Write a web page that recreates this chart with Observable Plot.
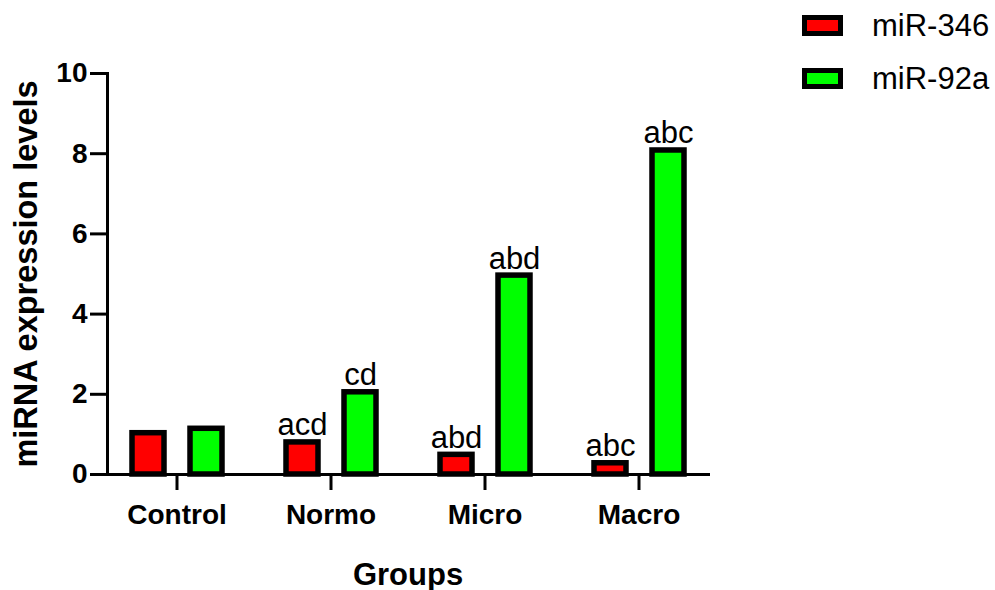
<!DOCTYPE html>
<html>
<head>
<meta charset="utf-8">
<script src="https://cdn.jsdelivr.net/npm/d3@7"></script>
<script src="https://cdn.jsdelivr.net/npm/@observablehq/plot@0.6"></script>
<style>
  html, body { margin: 0; padding: 0; background: white; }
  #wrap { position: relative; width: 995px; height: 590px; font-family: "Liberation Sans", Arial, sans-serif; }
  #legend { position: absolute; left: 802px; top: -1px; }
  .item { display: flex; align-items: center; height: 53px; }
  .sw { width: 31px; height: 11px; border: 5.5px solid black; box-sizing: content-box; }
  .lab { margin-left: 29px; font-size: 31px; color: black; line-height: 1; }
  [aria-label="y-axis label"] text { font-size: 32.5px; font-weight: bold; }
  [aria-label="fx-axis label"] text { font-size: 31px; font-weight: bold; }
  [aria-label="y-axis tick label"] text, [aria-label="fx-axis tick label"] text { font-weight: bold; }
</style>
</head>
<body>
<div id="wrap"><div id="chart"></div><div id="legend"></div></div>
<script>
const groups = ["Control", "Normo", "Micro", "Macro"];
const series = ["miR-346", "miR-92a"];
const mir346 = [1.03, 0.80, 0.49, 0.28];
const mir92a = [1.14, 2.05, 4.96, 8.08];
const labels346 = ["", "acd", "abd", "abc"];
const labels92a = ["", "cd", "abd", "abc"];
const colors = ["#ff0000", "#00ff00"];
const yTicks = [0, 2, 4, 6, 8, 10];

const data = groups.flatMap((g, i) => [
  {group: g, series: series[0], value: mir346[i], label: labels346[i]},
  {group: g, series: series[1], value: mir92a[i], label: labels92a[i]}
]);

const chart = Plot.plot({
  width: 995,
  height: 590,
  marginLeft: 106,
  marginRight: 286,
  marginTop: 73,
  marginBottom: 116,
  style: {fontFamily: "'Liberation Sans', Arial, sans-serif", color: "black", background: "white"},
  fx: {domain: groups, paddingInner: 0.1, paddingOuter: 0, label: "Groups"},
  x: {domain: series, paddingInner: 0.45, paddingOuter: 0.415, axis: null},
  y: {domain: [0, 10], label: "miRNA expression levels"},
  color: {domain: series, range: colors},
  marks: [
    Plot.barY(data, {fx: "group", x: "series", y: "value", fill: "series", stroke: "black", strokeWidth: 5.5}),
    Plot.text(data, {fx: "group", x: "series", y: "value", text: "label", dy: -7, lineAnchor: "bottom", fontSize: 31, fill: "black"}),
    Plot.axisY({ticks: yTicks, tickSize: 17, tickPadding: 3, strokeWidth: 3, fontSize: 28, fontWeight: "bold",
      label: "miRNA expression levels", labelArrow: "none", labelAnchor: "center", labelOffset: 94}),
    Plot.axisFx({anchor: "bottom", tickSize: 16, tickPadding: 14, strokeWidth: 3, fontSize: 28, fontWeight: "bold",
      label: "Groups", labelArrow: "none", labelAnchor: "center", labelOffset: 110}),
    Plot.frame({anchor: "bottom", facet: "super", stroke: "black", strokeWidth: 3}),
    Plot.frame({anchor: "left", facet: "super", stroke: "black", strokeWidth: 3})
  ]
});
document.getElementById("chart").appendChild(chart);

const legend = document.getElementById("legend");
series.forEach((s, i) => {
  const item = document.createElement("div");
  item.className = "item";
  const sw = document.createElement("div");
  sw.className = "sw";
  sw.style.background = colors[i];
  const lab = document.createElement("div");
  lab.className = "lab";
  lab.textContent = s;
  item.appendChild(sw);
  item.appendChild(lab);
  legend.appendChild(item);
});
</script>
</body>
</html>
